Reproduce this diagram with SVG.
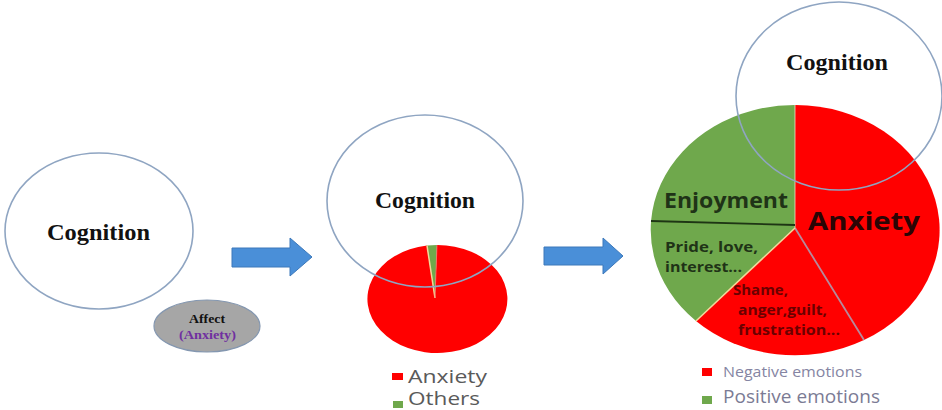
<svg xmlns="http://www.w3.org/2000/svg" width="942" height="410" viewBox="0 0 942 410">
<style>
.cog{font-family:"Liberation Serif","Times New Roman",serif;font-weight:bold;font-size:23px;fill:#111}
.ring{fill:none;stroke:#8fa5c2;stroke-width:1.6}
.lab{font-family:"Open Sans","Liberation Sans",sans-serif;font-weight:bold}
.leg{font-family:"Open Sans","Liberation Sans",sans-serif}
.arrow{fill:#4a8fd8;stroke:#3c78ba;stroke-width:1}
.red{fill:#ff0000}
.green{fill:#6fa84c}
</style>
<rect width="942" height="410" fill="#ffffff"/>

<g id="cognition-left">
  <ellipse cx="99" cy="231" rx="94" ry="78" fill="#ffffff" stroke="#8fa5c2" stroke-width="1.6"/>
  <text class="cog" x="47" y="240" textLength="103" lengthAdjust="spacingAndGlyphs">Cognition</text>
</g>

<g id="affect">
  <ellipse cx="207" cy="326" rx="53" ry="26" fill="#a6a6a6" stroke="#8497b0" stroke-width="1.2"/>
  <text x="189" y="323" textLength="36" lengthAdjust="spacingAndGlyphs" style="font-family:'Liberation Serif',serif;font-weight:bold;font-size:12px;fill:#111">Affect</text>
  <text x="179" y="339" textLength="57" lengthAdjust="spacingAndGlyphs" style="font-family:'Liberation Serif',serif;font-weight:bold;font-size:12px;fill:#7030a0">(Anxiety)</text>
</g>

<g id="pie-middle">
  <path class="red" d="M435,298 L437,245 A70,54 0 1,1 427,245.6 Z"/>
  <path class="green" d="M435,298 L427,245.6 A70,54 0 0,1 437,245 Z"/>
  <line x1="435" y1="298" x2="427" y2="245.6" stroke="#f3d79a" stroke-width="1.5"/>
  <line x1="435" y1="298" x2="437" y2="245" stroke="#ff6a6a" stroke-width="0.8"/>
</g>

<g id="cognition-middle">
  <ellipse class="ring" cx="425" cy="201" rx="98" ry="86"/>
  <text class="cog" x="375" y="208" textLength="100" lengthAdjust="spacingAndGlyphs">Cognition</text>
</g>

<g id="legend-middle">
  <rect x="392" y="373" width="11" height="7" fill="#ff0000"/>
  <text class="leg" x="408" y="383" font-size="18" fill="#5a5a5a" textLength="79" lengthAdjust="spacingAndGlyphs">Anxiety</text>
  <rect x="393" y="401" width="10" height="7" fill="#6fa84c"/>
  <text class="leg" x="408" y="405" font-size="18" fill="#5a5a5a" textLength="72" lengthAdjust="spacingAndGlyphs">Others</text>
</g>

<g id="pie-right">
  <path class="red" d="M795,228 L795,105 A144,125 0 0,1 864,340 Z"/>
  <path class="red" d="M795,228 L864,340 A144,125 0 0,1 696,321 Z"/>
  <path class="green" d="M795,228 L696,321 A144,125 0 0,1 795,105 Z"/>
  <line x1="795" y1="228" x2="864" y2="340" stroke="#b58a9c" stroke-width="1.8"/>
  <line x1="795" y1="228" x2="696" y2="321" stroke="#f3d79a" stroke-width="1.5"/>
  <line x1="795" y1="228" x2="795" y2="105" stroke="#f0e0c0" stroke-width="0.8"/>
  <line x1="651" y1="221" x2="795" y2="225" stroke="#1e3514" stroke-width="1.8"/>
  <text class="lab" x="664" y="208" font-size="21" fill="#1f3317" textLength="124" lengthAdjust="spacingAndGlyphs">Enjoyment</text>
  <text class="lab" x="808" y="230" font-size="25" fill="#2a0505" textLength="112" lengthAdjust="spacingAndGlyphs">Anxiety</text>
  <text class="lab" x="665" y="252" font-size="15" fill="#1f3317" textLength="93" lengthAdjust="spacingAndGlyphs">Pride, love,</text>
  <text class="lab" x="665" y="272" font-size="15" fill="#1f3317" textLength="77" lengthAdjust="spacingAndGlyphs">interest...</text>
  <text class="lab" x="733" y="295" font-size="14" fill="#6b0000" textLength="55" lengthAdjust="spacingAndGlyphs">Shame,</text>
  <text class="lab" x="738" y="315" font-size="14" fill="#6b0000" textLength="89" lengthAdjust="spacingAndGlyphs">anger,guilt,</text>
  <text class="lab" x="738" y="335" font-size="14" fill="#6b0000" textLength="102" lengthAdjust="spacingAndGlyphs">frustration...</text>
</g>

<g id="cognition-right">
  <ellipse class="ring" cx="839" cy="96" rx="103" ry="94"/>
  <text class="cog" x="786" y="70" textLength="102" lengthAdjust="spacingAndGlyphs">Cognition</text>
</g>

<g id="legend-right">
  <rect x="702" y="368" width="10" height="8" fill="#ff0000"/>
  <text class="leg" x="723" y="377" font-size="14" fill="#8585a3" textLength="139" lengthAdjust="spacingAndGlyphs">Negative emotions</text>
  <rect x="702" y="396" width="10" height="8" fill="#6fa84c"/>
  <text class="leg" x="723" y="403" font-size="18" fill="#7b7b94" textLength="157" lengthAdjust="spacingAndGlyphs">Positive emotions</text>
</g>

<g id="connectors">
  <polygon class="arrow" points="232,248 290,248 290,238 312,257 290,276 290,267 232,267"/>
  <polygon class="arrow" points="544,247 603,247 603,238 623,256 603,274 603,265 544,265"/>
</g>
</svg>
